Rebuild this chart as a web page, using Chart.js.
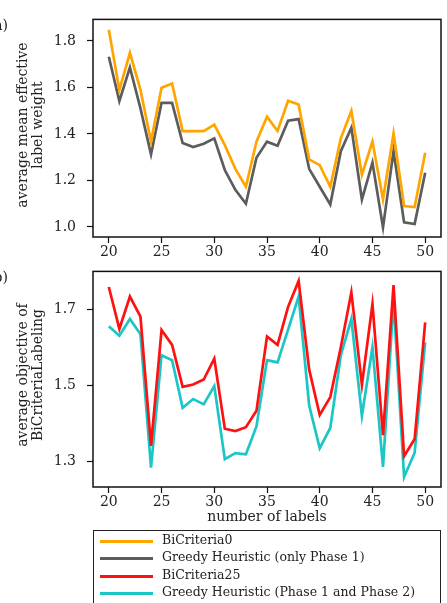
<!DOCTYPE html>
<html>
<head>
<meta charset="utf-8">
<script src="https://cdn.jsdelivr.net/npm/chart.js@4.4.1/dist/chart.umd.min.js"></script>
<style>
  body { margin: 0; background: #fff; }
  #page { position: relative; width: 447px; height: 603px; overflow: hidden; font-family: "DejaVu Serif", serif; color: #222; }
  canvas { position: absolute; left: 0; }
  .panel { position: absolute; right: 439px; font-size: 14px; white-space: nowrap; line-height: 16px; }
  .ytitle { position: absolute; width: 220px; height: 30px; line-height: 15px; font-size: 14px; text-align: center; transform: rotate(-90deg); white-space: nowrap; }
  #legend { position: absolute; left: 93px; top: 530px; width: 346px; height: 90px; border: 1.5px solid #222; font-size: 12.5px; }
  .row { position: absolute; left: 0; height: 17px; }
  .row .swatch { position: absolute; left: 6px; width: 53px; height: 3px; }
  .row .txt { position: absolute; left: 68px; top: -1px; white-space: nowrap; }
</style>
</head>
<body>
<div id="page">
  <canvas id="top" width="447" height="258" style="top:0"></canvas>
  <canvas id="bottom" width="447" height="278" style="top:252px"></canvas>
  <div class="panel" style="top:17px">(a)</div>
  <div class="panel" style="top:269px">(b)</div>
  <div class="ytitle" style="left:-80px; top:110px">average mean effective<br>label weight</div>
  <div class="ytitle" style="left:-80px; top:360px">average objective of<br>BiCriteriaLabeling</div>
  <div id="legend"></div>
</div>
<script>
// number of labels
const xLabels = [20, 21, 22, 23, 24, 25, 26, 27, 28, 29, 30, 31, 32, 33, 34, 35,
                 36, 37, 38, 39, 40, 41, 42, 43, 44, 45, 46, 47, 48, 49, 50];
const xTicks = [20, 25, 30, 35, 40, 45, 50];

// (a) average mean effective label weight
const bicriteria0 = [1.848, 1.589, 1.749, 1.59, 1.367, 1.599, 1.617, 1.412, 1.412, 1.412, 1.44,
                     1.352, 1.25, 1.173, 1.367, 1.474, 1.413, 1.543, 1.527, 1.291, 1.266,
                     1.173, 1.381, 1.499, 1.225, 1.367, 1.118, 1.402, 1.09, 1.086, 1.319];
const greedyPhase1 = [1.732, 1.541, 1.686, 1.51, 1.312, 1.534, 1.534, 1.361, 1.344, 1.358, 1.381,
                      1.245, 1.16, 1.1, 1.298, 1.367, 1.349, 1.457, 1.464, 1.25, 1.173,
                      1.097, 1.326, 1.427, 1.118, 1.277, 0.998, 1.326, 1.02, 1.013, 1.233];
const topTicks = [1.0, 1.2, 1.4, 1.6, 1.8];

// (b) average objective of BiCriteriaLabeling
const bicriteria25 = [1.759, 1.649, 1.734, 1.681, 1.342, 1.646, 1.607, 1.497, 1.503, 1.516, 1.571,
                      1.387, 1.381, 1.391, 1.434, 1.629, 1.607, 1.707, 1.775, 1.542, 1.423,
                      1.47, 1.601, 1.745, 1.502, 1.714, 1.37, 1.764, 1.315, 1.36, 1.666];
const greedyPhase12 = [1.656, 1.631, 1.675, 1.635, 1.285, 1.58, 1.567, 1.442, 1.465, 1.451, 1.499,
                       1.307, 1.323, 1.32, 1.393, 1.567, 1.561, 1.647, 1.734, 1.448, 1.336,
                       1.389, 1.58, 1.675, 1.421, 1.601, 1.287, 1.724, 1.26, 1.324, 1.614];
const bottomTicks = [1.3, 1.5, 1.7];

const seriesNames = ['BiCriteria0', 'Greedy Heuristic (only Phase 1)',
                     'BiCriteria25', 'Greedy Heuristic (Phase 1 and Phase 2)'];
const seriesColors = ['#ffa500', '#5c5c5c', '#ff1111', '#1cc6c6'];

const font = 'DejaVu Serif';

// draw the black frame round the plot area
const frame = {
  id: 'frame',
  afterDraw(chart) {
    const a = chart.chartArea, ctx = chart.ctx;
    ctx.save();
    ctx.strokeStyle = '#111';
    ctx.lineWidth = 1.5;
    ctx.strokeRect(a.left, a.top, a.right - a.left, a.bottom - a.top);
    ctx.restore();
  }
};

function toPoints(vals) {
  return vals.map((v, i) => ({ x: xLabels[i], y: v }));
}

function makeChart(id, sets, yMin, yMax, yTicks, padTop, xHeight, xTitle) {
  return new Chart(document.getElementById(id), {
    type: 'line',
    data: {
      datasets: sets.map(s => ({
        label: s.name,
        data: toPoints(s.vals),
        borderColor: s.color,
        borderWidth: 2.7,
        pointRadius: 0,
        tension: 0,
        fill: false
      }))
    },
    options: {
      responsive: false,
      animation: false,
      layout: { padding: { top: padTop, right: 6, left: 0, bottom: 0 } },
      plugins: { legend: { display: false }, tooltip: { enabled: false } },
      scales: {
        x: {
          type: 'linear', min: 18.5, max: 51.5,
          afterBuildTicks: s => { s.ticks = xTicks.map(v => ({ value: v })); },
          afterFit: s => { s.height = xHeight; },
          grid: { drawOnChartArea: false, drawTicks: true, tickLength: 6, tickColor: '#111', tickWidth: 1.2 },
          border: { display: false },
          ticks: { color: '#222', font: { family: font, size: 14 }, padding: 1, maxRotation: 0 },
          title: xTitle ? { display: true, text: xTitle, color: '#222', font: { family: font, size: 14 }, padding: { top: 0, bottom: 4 } } : { display: false }
        },
        y: {
          min: yMin, max: yMax,
          afterBuildTicks: s => { s.ticks = yTicks.map(v => ({ value: v })); },
          afterFit: s => { s.width = 93; },
          grid: { drawOnChartArea: false, drawTicks: true, tickLength: 6, tickColor: '#111', tickWidth: 1.2 },
          border: { display: false },
          ticks: { color: '#222', font: { family: font, size: 14 }, padding: 11, callback: v => v.toFixed(1) }
        }
      }
    },
    plugins: [frame]
  });
}

makeChart('top', [
  { name: seriesNames[0], vals: bicriteria0, color: seriesColors[0] },
  { name: seriesNames[1], vals: greedyPhase1, color: seriesColors[1] }
], 0.957, 1.8925, topTicks, 14, 21, null);

makeChart('bottom', [
  { name: seriesNames[2], vals: bicriteria25, color: seriesColors[2] },
  { name: seriesNames[3], vals: greedyPhase12, color: seriesColors[3] }
], 1.234, 1.80, bottomTicks, 13, 43, 'number of labels');

// legend below both panels
const legend = document.getElementById('legend');
seriesNames.forEach((name, i) => {
  const row = document.createElement('div');
  row.className = 'row';
  row.style.top = (2 + i * 17.3) + 'px';
  row.innerHTML = `<span class="swatch" style="top:7px;background:${seriesColors[i]}"></span>
                   <span class="txt">${name}</span>`;
  legend.appendChild(row);
});
</script>
</body>
</html>
